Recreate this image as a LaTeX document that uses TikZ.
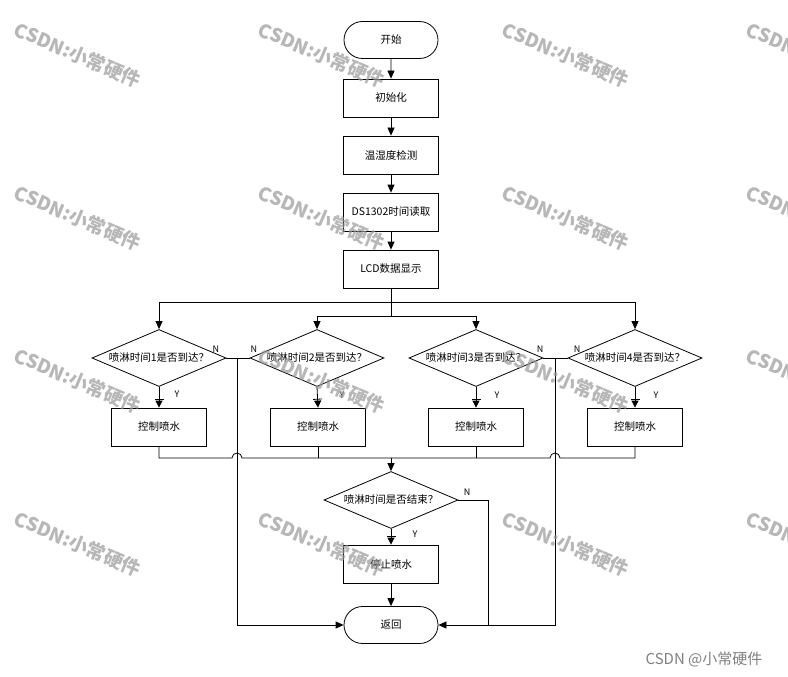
\documentclass[tikz,border=0pt]{standalone}
\usepackage{fontspec}
\setmainfont{Noto Sans CJK SC}
\usetikzlibrary{arrows.meta,shapes.geometric,shapes.misc}
\begin{document}
\begin{tikzpicture}[x=1pt,y=-1pt,line width=0.8pt,
  font=\fontsize{10.5}{12}\selectfont,
  term/.style={draw,rounded rectangle,minimum width=94pt,minimum height=37pt,inner sep=0pt},
  proc/.style={draw,rectangle,minimum width=95pt,minimum height=38pt,inner sep=0pt},
  decision/.style={draw,diamond,minimum width=134pt,minimum height=57pt,inner sep=0pt},
  arr/.style={-{Triangle[length=8pt,width=7pt]}},
  yarr/.style={-{Bar[width=9pt,sep=1pt]Triangle[length=7pt,width=7pt]}},
  lab/.style={inner sep=0pt,font=\fontsize{9}{10}\selectfont},
  wmark/.style={text=black!40,text opacity=0.7,rotate=-23,font=\bfseries\fontsize{19}{20}\selectfont}]
\useasboundingbox (0,0) rectangle (788,677);
\fill[white] (0,0) rectangle (788,677);
% main column
\node[term] (start) at (391,40) {开始};
\node[proc] (init) at (391,98) {初始化};
\node[proc] (temp) at (391,155) {温湿度检测};
\node[proc] (ds) at (391,212) {DS1302时间读取};
\node[proc] (lcd) at (391,269) {LCD数据显示};
\draw[arr] (start) -- (init);
\draw[arr] (init) -- (temp);
\draw[arr] (temp) -- (ds);
\draw[arr] (ds) -- (lcd);
% decisions
\node[decision] (d1) at (159,358) {};
\node[decision] (d2) at (317,358) {};
\node[decision] (d3) at (476,358) {};
\node[decision] (d4) at (635,358) {};
\node (t1) at (d1) {喷淋时间1是否到达？};
\node (t2) at (d2) {喷淋时间2是否到达？};
\node (t3) at (d3) {喷淋时间3是否到达？};
\node (t4) at (d4) {喷淋时间4是否到达？};
\node[proc] (b1) at (159,427) {控制喷水};
\node[proc] (b2) at (318,427) {控制喷水};
\node[proc] (b3) at (476,427) {控制喷水};
\node[proc] (b4) at (635,427) {控制喷水};
% distribution buses
\coordinate (j0) at (391,302);
\coordinate (j1) at (391,316);
\draw (lcd.south) -- (j1);
\draw[arr] (j0) -| (d1.north);
\draw[arr] (j0) -| (d4.north);
\draw[arr] (j1) -| (d2.north);
\draw[arr] (j1) -| (d3.north);
% Y branches
\draw[yarr] (d1.south) -- (b1.north);
\draw[yarr] (d2.south) -- (b2.north);
\draw[yarr] (d3.south) -- (b3.north);
\draw[yarr] (d4.south) -- (b4.north);
\node[lab] (y1) at (177,394) {Y};
\node[lab] (y2) at (342,395) {Y};
\node[lab] (y3) at (497,395) {Y};
\node[lab] (y4) at (656,395) {Y};
\node[lab] (n1) at (216,349) {N};
\node[lab] (n2) at (254,349) {N};
\node[lab] (n3) at (540,349) {N};
\node[lab] (n4) at (577,349) {N};
% end part
\node[decision] (endd) at (391,500) {};
\node (te) at (endd) {喷淋时间是否结束？};
\node[proc] (stop) at (391,564) {停止喷水};
\node[term] (ret) at (391,625) {返回};
% N lines
\coordinate (nl) at (237,358);
\coordinate (nr) at (555,358);
\draw (d1.east) -- (nl);
\draw (d2.west) -- (nl);
\draw (d3.east) -- (nr);
\draw (d4.west) -- (nr);
\draw[arr] (nl) |- (ret.west);
\draw[arr] (nr) |- (ret.east);
% merge bus with hops
\coordinate (m1) at (159,458);
\coordinate (m2) at (318,458);
\coordinate (m3) at (476,458);
\coordinate (m4) at (635,458);
\coordinate (mc) at (391,458);
\draw (b1.south) -- (m1) -- (232,458) arc[start angle=180,end angle=0,radius=5pt]
      -- (550,458) arc[start angle=180,end angle=0,radius=5pt] -- (m4) -- (b4.south);
\draw (b2.south) -- (m2);
\draw (b3.south) -- (m3);
\draw[arr] (mc) -- (endd.north);
% end decision
\coordinate (ne) at (488,500);
\coordinate (ne2) at (488,625);
\draw (endd.east) -- (ne) -- (ne2);
\node[lab] (n5) at (467,492) {N};
\draw[yarr] (endd.south) -- (stop.north);
\node[lab] (y5) at (415,534) {Y};
\draw[arr] (stop) -- (ret);
% watermarks
\foreach \cx in {78,322,566,810} {
  \foreach \cy in {55,218,381,544} {
    \node[wmark] at (\cx,\cy) {CSDN:小常硬件};
  }
}
\node[text=black!50,font=\fontsize{15}{18}\selectfont] (credit) at (704,659) {CSDN @小常硬件};
\end{tikzpicture}
\end{document}
